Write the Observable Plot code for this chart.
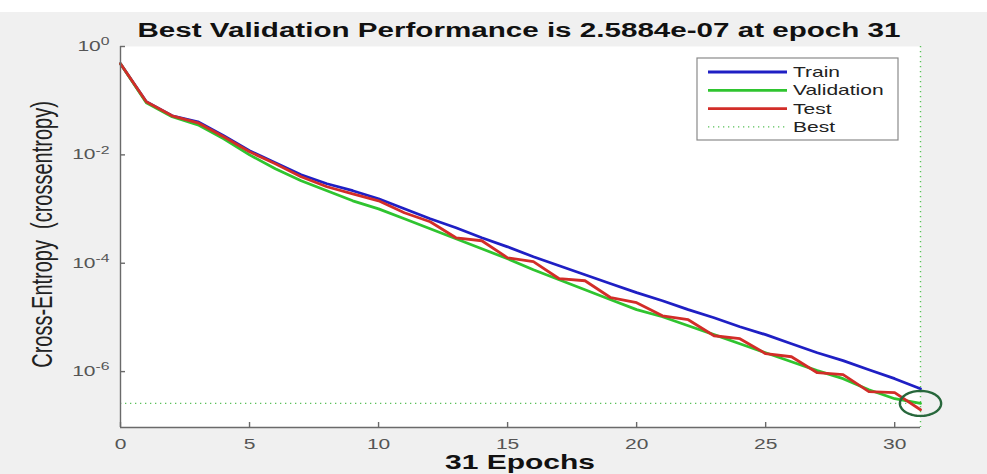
<!DOCTYPE html>
<html>
<head>
<meta charset="utf-8">
<script src="https://cdn.jsdelivr.net/npm/d3@7"></script>
<script src="https://cdn.jsdelivr.net/npm/@observablehq/plot@0.6"></script>
<style>
  html, body { margin: 0; padding: 0; }
  body { width: 987px; height: 474px; position: relative; overflow: hidden; background: #f0f0f0;
         font-family: "Liberation Sans", Arial, Helvetica, sans-serif; }
  #strip { position: absolute; left: 0; top: 0; width: 987px; height: 12px; background: #ffffff; }
  #chart { position: absolute; left: 0; top: 0; }
  #overlay { position: absolute; left: 0; top: 0; pointer-events: none; }
</style>
</head>
<body>
<div id="strip"></div>
<div id="chart"></div>
<svg id="overlay" width="987" height="474"></svg>
<script>
// ---------------- data ----------------
const epochs = [0,1,2,3,4,5,6,7,8,9,10,11,12,13,14,15,16,17,18,19,20,21,22,23,24,25,26,27,28,29,30,31];
const train = [0.480, 0.0955, 0.0526, 0.0408, 0.0225, 0.0119, 0.00715, 0.00430, 0.00293, 0.00218,
  0.00155, 0.00101, 6.62e-4, 4.52e-4, 2.95e-4, 2.01e-4, 1.32e-4, 8.99e-5, 6.14e-5, 4.19e-5,
  2.86e-5, 2.03e-5, 1.39e-5, 9.87e-6, 6.73e-6, 4.80e-6, 3.27e-6, 2.23e-6, 1.59e-6, 1.08e-6,
  7.40e-7, 4.84e-7];
const validation = [0.480, 0.0915, 0.0505, 0.0359, 0.0198, 0.0100, 0.00554, 0.00333, 0.00218, 0.00142,
  0.00101, 6.62e-4, 4.33e-4, 2.83e-4, 1.85e-4, 1.21e-4, 7.59e-5, 4.96e-5, 3.24e-5, 2.12e-5,
  1.39e-5, 1.03e-5, 7.03e-6, 4.80e-6, 3.27e-6, 2.23e-6, 1.52e-6, 1.04e-6, 7.40e-7, 4.63e-7,
  3.16e-7, 2.5884e-7];
const test = [0.480, 0.0955, 0.0526, 0.0391, 0.0216, 0.0114, 0.00685, 0.00394, 0.00258, 0.00191,
  0.00142, 8.55e-4, 5.83e-4, 2.95e-4, 2.60e-4, 1.26e-4, 1.07e-4, 5.18e-5, 4.75e-5, 2.31e-5,
  1.87e-5, 1.07e-5, 9.07e-6, 4.59e-6, 4.05e-6, 2.14e-6, 1.88e-6, 9.55e-7, 8.77e-7, 4.26e-7,
  4.08e-7, 1.98e-7];
const bestEpoch = 31;
const bestValue = 2.5884e-7;

const seriesNames = ["Train", "Validation", "Test", "Best"];
const seriesColors = ["#1f1fc4", "#2fc42f", "#d22d28", "#58c058"];
const circleColor = "#27673b";

const xTicks = [0, 5, 10, 15, 20, 25, 30];
const yTicks = [1, 1e-2, 1e-4, 1e-6];
const yTickLabels = ["10⁰", "10⁻²", "10⁻⁴", "10⁻⁶"];
const yTickExponents = ["0", "-2", "-4", "-6"];
const xDomain = [0, 31];
const yDomain = [9.3e-8, 1];

const titleText = "Best Validation Performance is 2.5884e-07 at epoch 31";
const xLabelText = "31 Epochs";
const yLabelText = "Cross-Entropy  (crossentropy)";

// ---------------- layout ----------------
const W = 987, H = 474, mL = 120, mR = 67, mT = 46, mB = 47;
const plotW = W - mL - mR, plotH = H - mT - mB;
const axisColor = "#6a6a6a";
const STRETCH = 1.5;

const seriesData = [train, validation, test].map((vals, s) =>
  epochs.map((e, i) => ({series: seriesNames[s], epoch: e, value: vals[i]})));

const ellipse = {
  draw(ctx, size) {
    const r = Math.sqrt(size / Math.PI), rx = r * 1.65, ry = r, n = 72;
    for (let k = 0; k <= n; k++) {
      const a = 2 * Math.PI * k / n;
      const px = rx * Math.cos(a), py = ry * Math.sin(a);
      if (k === 0) ctx.moveTo(px, py); else ctx.lineTo(px, py);
    }
    ctx.closePath();
  }
};

const chart = Plot.plot({
  width: W, height: H,
  marginLeft: mL, marginRight: mR, marginTop: mT, marginBottom: mB,
  style: { background: "transparent", fontFamily: "'Liberation Sans', Arial, Helvetica, sans-serif",
           fontSize: "14px", color: "#555555", overflow: "visible" },
  x: { domain: xDomain, ticks: xTicks, tickSize: 0, tickPadding: 12, label: null },
  y: { type: "log", domain: yDomain, ticks: yTicks,
       tickFormat: d => yTickLabels[yTicks.indexOf(d)], tickSize: 0, tickPadding: 11, label: null },
  marks: [
    Plot.frame({fill: "white", stroke: "none"}),
    Plot.ruleY([bestValue], {stroke: seriesColors[3], strokeWidth: 1.4, strokeDasharray: "1.3,3.7"}),
    Plot.ruleX([bestEpoch], {stroke: seriesColors[3], strokeWidth: 1.4, strokeDasharray: "1.3,3.7"}),
    Plot.line(seriesData[0], {x: "epoch", y: "value", stroke: seriesColors[0], strokeWidth: 2.8}),
    Plot.line(seriesData[1], {x: "epoch", y: "value", stroke: seriesColors[1], strokeWidth: 2.8}),
    Plot.line(seriesData[2], {x: "epoch", y: "value", stroke: seriesColors[2], strokeWidth: 2.8}),
    Plot.dot([{epoch: bestEpoch, value: bestValue}], {x: "epoch", y: "value", r: 12.5, symbol: ellipse,
      stroke: circleColor, strokeWidth: 2.4, fill: "none"}),
    Plot.ruleX([xDomain[0]], {stroke: axisColor, strokeWidth: 1.4}),
    Plot.ruleY([yDomain[0]], {stroke: axisColor, strokeWidth: 1.4}),
    Plot.tickX(xTicks, {x: d => d, insetTop: plotH - 5, stroke: axisColor, strokeWidth: 1.4}),
    Plot.tickY(yTicks, {y: d => d, insetRight: plotW - 5, stroke: axisColor, strokeWidth: 1.4})
  ]
});
document.getElementById("chart").append(chart);

// y tick labels: "10" with a raised exponent, like the reference
chart.querySelectorAll("text").forEach(t => {
  const idx = yTickLabels.indexOf(t.textContent);
  if (idx >= 0) {
    t.textContent = "10";
    const sp = document.createElementNS("http://www.w3.org/2000/svg", "tspan");
    sp.setAttribute("dy", "-0.55em");
    sp.setAttribute("font-size", "10.5px");
    sp.textContent = yTickExponents[idx];
    t.appendChild(sp);
  }
});

// stretch tick labels horizontally like the reference
chart.querySelectorAll("text").forEach(t => {
  const L = t.getComputedTextLength();
  if (L > 0) {
    t.setAttribute("textLength", (L * STRETCH).toFixed(2));
    t.setAttribute("lengthAdjust", "spacingAndGlyphs");
  }
});

// ---------------- overlay texts & legend ----------------
const ov = d3.select("#overlay");
const font = "'Liberation Sans', Arial, Helvetica, sans-serif";

ov.append("text")
  .attr("transform", `translate(${mL + plotW / 2 - 1},37) scale(1.48,1)`)
  .attr("text-anchor", "middle").attr("font-family", font).attr("font-size", 20)
  .attr("font-weight", "bold").attr("fill", "#111").text(titleText);

ov.append("text")
  .attr("transform", `translate(${mL + plotW / 2},469) scale(${STRETCH},1)`)
  .attr("text-anchor", "middle").attr("font-family", font).attr("font-size", 20)
  .attr("font-weight", "bold").attr("fill", "#111").text(xLabelText);

ov.append("text")
  .attr("transform", `translate(41,${mT + plotH / 2 - 2}) scale(${STRETCH},1) rotate(-90)`)
  .attr("text-anchor", "middle").attr("dy", "0.35em").attr("font-family", font).attr("font-size", 20)
  .attr("fill", "#222").style("white-space", "pre").text(yLabelText);

const lg = ov.append("g");
const lgX = 697, lgY = 58, lgW = 201, lgH = 82, rowH = 18.3;
lg.append("rect").attr("x", lgX).attr("y", lgY).attr("width", lgW).attr("height", lgH)
  .attr("fill", "white").attr("stroke", "#8a8a8a").attr("stroke-width", 1.2);
seriesNames.forEach((name, i) => {
  const yy = lgY + 14 + rowH * i;
  const ln = lg.append("line").attr("x1", lgX + 11).attr("x2", lgX + 90).attr("y1", yy).attr("y2", yy)
    .attr("stroke", seriesColors[i]);
  if (name === "Best") ln.attr("stroke-width", 1.4).attr("stroke-dasharray", "1.3,3.7");
  else ln.attr("stroke-width", 2.8);
  lg.append("text").attr("transform", `translate(${lgX + 96},${yy}) scale(${STRETCH},1)`)
    .attr("dy", "0.35em").attr("font-family", font).attr("font-size", 14).attr("fill", "#222").text(name);
});
</script>
</body>
</html>
